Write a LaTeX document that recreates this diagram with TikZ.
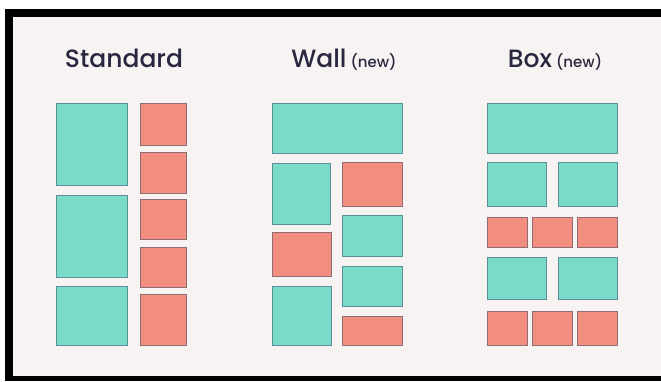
\documentclass[tikz,border=0pt]{standalone}
\usepackage{fontspec}
\newfontfamily\titlefont{Poppins Medium}
\definecolor{bgc}{HTML}{F7F3F2}
\definecolor{teal}{HTML}{7ADBC8}
\definecolor{tealb}{HTML}{5A8E98}
\definecolor{pinkc}{HTML}{F28E80}
\definecolor{pinkb}{HTML}{8E6C74}
\definecolor{ink}{HTML}{29263F}
\tikzset{
  tl/.style={fill=teal,draw=tealb,line width=0.8pt},
  pk/.style={fill=pinkc,draw=pinkb,line width=0.8pt},
  ttl/.style={anchor=base,text=ink,inner sep=0pt,font=\titlefont\fontsize{25}{28}\selectfont},
}
\newcommand{\smallnew}{{\fontsize{15}{18}\selectfont(new)}}
\begin{document}
\begin{tikzpicture}[x=1pt,y=-1pt]
\useasboundingbox (0,0) rectangle (661,381);
\fill[white] (0,0) rectangle (661,381);
\fill[black] (5,9) rectangle (661,381);
\fill[bgc] (13,17) rectangle (661,376);
% titles
\node[ttl] (t1) at (124,67) {Standard};
\node[ttl] (t2) at (344,67) {Wall\hspace{4pt}\smallnew};
\node[ttl] (t3) at (555,67) {Box\hspace{4pt}\smallnew};
% Standard
\path[tl] (56,103) rectangle (127,185);
\path[tl] (56,195) rectangle (127,277);
\path[tl] (56,286) rectangle (127,345);
\path[pk] (140,103) rectangle (186,145);
\path[pk] (140,152) rectangle (186,193);
\path[pk] (140,199) rectangle (186,239);
\path[pk] (140,247) rectangle (186,287);
\path[pk] (140,294) rectangle (186,345);
% Wall
\path[tl] (272,103) rectangle (402,153);
\path[tl] (272,163) rectangle (330,224);
\path[pk] (272,232) rectangle (331,276);
\path[tl] (272,286) rectangle (331,345);
\path[pk] (342,162) rectangle (402,206);
\path[tl] (342,215) rectangle (402,256);
\path[tl] (342,266) rectangle (402,306);
\path[pk] (342,316) rectangle (402,345);
% Box
\path[tl] (487,103) rectangle (617,153);
\path[tl] (487,162) rectangle (546,206);
\path[tl] (558,162) rectangle (617,206);
\path[pk] (487,217) rectangle (527,247);
\path[pk] (532,217) rectangle (572,247);
\path[pk] (577,217) rectangle (617,247);
\path[tl] (487,257) rectangle (546,299);
\path[tl] (558,257) rectangle (617,299);
\path[pk] (487,311) rectangle (527,345);
\path[pk] (532,311) rectangle (572,345);
\path[pk] (577,311) rectangle (617,345);
\end{tikzpicture}
\end{document}
